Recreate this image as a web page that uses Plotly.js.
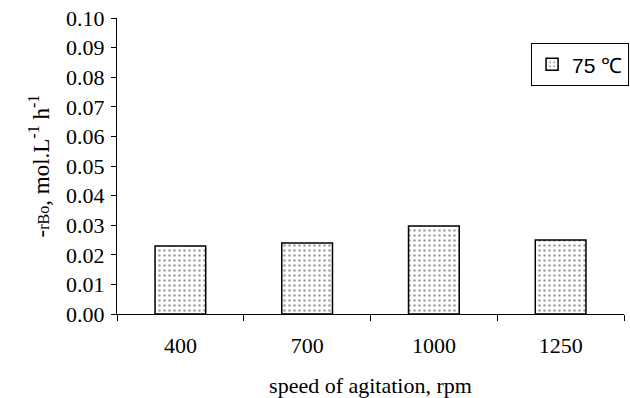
<!DOCTYPE html>
<html><head><meta charset="utf-8">
<script src="https://cdn.plot.ly/plotly-3.0.1.min.js"></script>
<style>html,body{margin:0;padding:0;background:#fff}</style>
</head><body>
<div id="chart" style="width:630px;height:398px"></div>
<script>
const categories = ['400', '700', '1000', '1250'];
const rates = [0.023, 0.024, 0.0297, 0.025];
const seriesName = '75 ℃';
const yTicks = [0, 0.01, 0.02, 0.03, 0.04, 0.05, 0.06, 0.07, 0.08, 0.09, 0.10];

const serif = '"Liberation Serif", "Times New Roman", serif';
const sans = '"Liberation Sans", Arial, sans-serif';

const trace = {
  type: 'bar', x: categories, y: rates, name: seriesName,
  marker: {color: '#ffffff', line: {color: '#000', width: 1.5},
    pattern: {shape: '.', fgcolor: '#a0a0a0', bgcolor: '#ffffff', size: 5, solidity: 0.2}},
  showlegend: true
};
const layout = {
  width: 630, height: 398,
  margin: {l: 117, r: 1, t: 18, b: 84},
  paper_bgcolor: '#fff', plot_bgcolor: '#fff',
  bargap: 0.6,
  font: {family: serif, size: 22, color: '#000'},
  xaxis: {type: 'category', showline: true, linecolor: '#000', linewidth: 1,
    ticks: 'outside', tickson: 'boundaries', ticklen: 6, tickcolor: '#000', ticklabelstandoff: 12,
    tickfont: {family: serif, size: 22, color: '#000'},
    showgrid: false, zeroline: false,
    title: {text: 'speed of agitation, rpm', font: {family: serif, size: 22, color: '#000'}, standoff: 22}},
  yaxis: {range: [0, 0.1], tickvals: yTicks, tickformat: '.2f', showline: true, linecolor: '#000', linewidth: 1,
    ticks: 'outside', ticklen: 5, tickcolor: '#000', ticklabelstandoff: 2, showgrid: false, zeroline: false,
    tickfont: {family: serif, size: 22, color: '#000'},
    title: {text: '-<span style="font-size:16px">rBo</span>, mol.L<sup>-1</sup> h<sup>-1</sup>', font: {family: serif, size: 23, color: '#000'}, standoff: 10}},
  legend: {x: 1.01, xanchor: 'right', y: 0.915, yanchor: 'top', bgcolor: '#fff', bordercolor: '#000', borderwidth: 1,
    font: {family: sans, size: 21, color: '#000'}}
};
Plotly.newPlot('chart', [trace], layout, {displayModeBar: false});
</script>
</body></html>
